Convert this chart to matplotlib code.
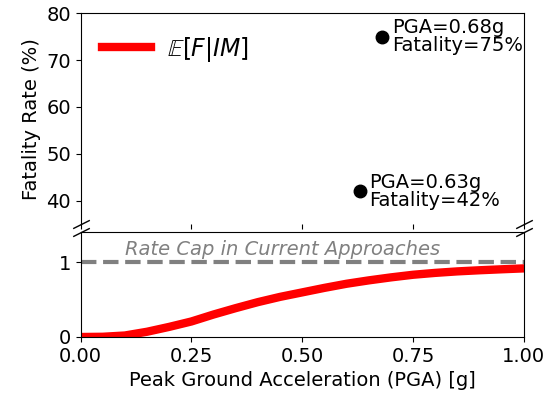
import matplotlib
matplotlib.use("Agg")
import matplotlib.pyplot as plt

# Data
pga = [0.0, 0.05, 0.10, 0.15, 0.20, 0.25, 0.30, 0.35, 0.40, 0.45, 0.50,
       0.55, 0.60, 0.65, 0.70, 0.75, 0.80, 0.85, 0.90, 0.95, 1.00]
expected_fatality = [0.0, 0.003, 0.02, 0.07, 0.135, 0.207, 0.30, 0.385, 0.465,
                     0.535, 0.595, 0.655, 0.71, 0.755, 0.795, 0.83, 0.855,
                     0.875, 0.89, 0.903, 0.915]
obs_pga = [0.68, 0.63]
obs_fatality = [75, 42]
obs_labels = ["PGA=0.68g\nFatality=75%", "PGA=0.63g\nFatality=42%"]
rate_cap = 1.0

fig = plt.figure(figsize=(5.48, 3.99), dpi=100)
ax1 = fig.add_axes([0.147, 0.4386, 0.809, 0.528])
ax2 = fig.add_axes([0.147, 0.1554, 0.809, 0.2631], sharex=ax1)

# top panel: observations
ax1.plot(pga, expected_fatality, color="red", lw=6, label=r"$\mathbb{E}[F|IM]$")
ax1.plot(obs_pga, obs_fatality, "o", color="black", ms=9)
for x, y, t in zip(obs_pga, obs_fatality, obs_labels):
    ax1.annotate(t, (x, y), xytext=(7, 0), textcoords="offset points",
                 ha="left", va="center", fontsize=14, linespacing=0.95)
ax1.set_ylim(35, 80)
ax1.set_yticks([40, 50, 60, 70, 80])
ax1.spines["bottom"].set_visible(False)
ax1.tick_params(axis="x", bottom=True, labelbottom=False, top=False)
ax1.tick_params(labelsize=14)
ax1.set_ylabel("Fatality Rate (%)", fontsize=14)
ax1.legend(loc="upper left", frameon=False, fontsize=17, handlelength=2.1,
           handletextpad=0.65)

# bottom panel
ax2.plot(pga, expected_fatality, color="red", lw=6)
ax2.axhline(rate_cap, color="gray", lw=3, ls="--")
ax2.text(0.1, 1.04, "Rate Cap in Current Approaches", style="italic",
         color="gray", fontsize=14, ha="left", va="bottom")
ax2.set_ylim(0, 1.4)
ax2.set_yticks([0, 1])
ax2.set_xlim(0, 1)
ax2.set_xticks([0, 0.25, 0.5, 0.75, 1.0])
ax2.tick_params(labelsize=14)
ax2.set_xlabel("Peak Ground Acceleration (PGA) [g]", fontsize=14)

# break marks
d = 0.5
kw = dict(marker=[(-1, -d), (1, d)], markersize=12, linestyle="none",
          color="k", mec="k", mew=1, clip_on=False)
ax1.plot([0, 1], [0, 0], transform=ax1.transAxes, **kw)
ax2.plot([0, 1], [1, 1], transform=ax2.transAxes, **kw)

fig.savefig("out.png", dpi=100)
